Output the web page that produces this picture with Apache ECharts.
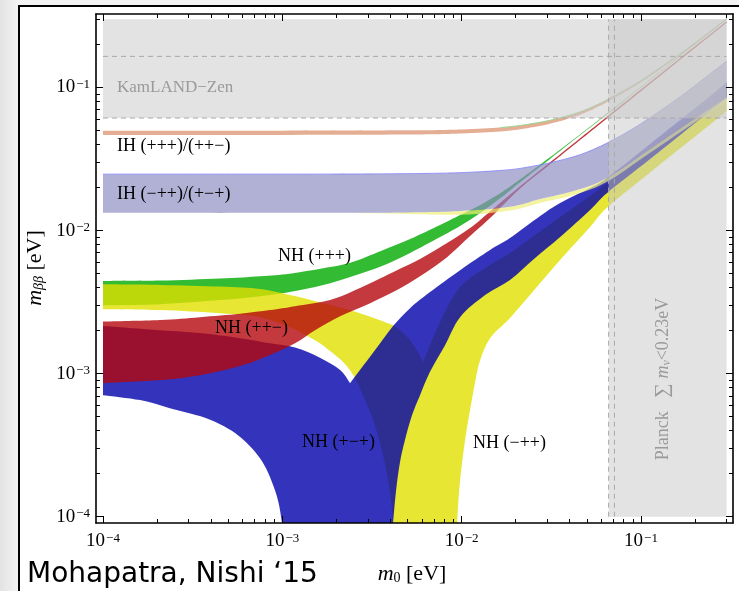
<!DOCTYPE html>
<html><head><meta charset="utf-8">
<script src="https://cdn.jsdelivr.net/npm/echarts@6/dist/echarts.min.js"></script>
<style>
html,body{margin:0;padding:0;width:739px;height:591px;overflow:hidden;background:linear-gradient(to right,#e3e3e3 0px,#f3f3f3 18px);}
#frame{position:absolute;left:18px;top:5px;width:760px;height:640px;border:2px solid #000;background:#fff;box-sizing:border-box;}
#chart{position:absolute;left:0;top:0;width:739px;height:591px;}
</style></head><body>
<div id="frame"></div><div id="chart"></div>
<script>
// ---------- axis ranges (log10 of eV) ----------
const X_MIN = -4.039, X_MAX = -0.487, Y_MIN = -4.044, Y_MAX = -0.4863;
const FLOOR = 9.05e-5;                 // bottom of the plot (m_bb -> 0)
const xTickExp = [-4, -3, -2, -1];     // major tick labels 10^n
const yTickExp = [-4, -3, -2, -1];

// ---------- experimental limits ----------
const kamland = [0.0612, 0.165];       // KamLAND-Zen band (dashed edges)
const planck = [0.066, 0.0711];        // Planck sum m < 0.23 eV  (IH, NH)
const m0Range = [1e-4, 0.3];
const mbbTop = 0.3;

// ---------- NH (+++)  green ----------
const nhPPP_up = [[1e-4,4.44e-3],[2.08e-4,4.47e-3],[4.49e-4,4.62e-3],[7.51e-4,4.80e-3],[1.10e-3,5.0e-3],[1.69e-3,5.45e-3],[2.39e-3,5.95e-3],[3.6e-3,7.25e-3],[5.16e-3,8.72e-3],[7.58e-3,1.093e-2],[9.8e-3,1.284e-2],[1.27e-2,1.51e-2],[1.64e-2,1.82e-2],[2.12e-2,2.28e-2],[3.11e-2,3.25e-2],[4.57e-2,4.7e-2],[5.91e-2,6.03e-2],[9.89e-2,0.1],[0.165,0.167],[0.3,0.303]];
const nhPPP_lo = [[1e-4,3.01e-3],[2.08e-4,3.06e-3],[4.49e-4,3.27e-3],[7.51e-4,3.48e-3],[1.10e-3,3.72e-3],[1.69e-3,4.16e-3],[2.39e-3,4.73e-3],[3.6e-3,5.65e-3],[5.16e-3,6.96e-3],[7.58e-3,9.0e-3],[9.8e-3,1.075e-2],[1.27e-2,1.326e-2],[1.64e-2,1.68e-2],[2.12e-2,2.18e-2],[3.11e-2,3.17e-2],[4.57e-2,4.63e-2],[5.91e-2,5.95e-2],[9.89e-2,9.92e-2],[0.165,0.1655],[0.3,0.3]];

// ---------- NH (-++)  yellow ----------
const nhMPP_up = [[1e-4,4.21e-3],[2.08e-4,4.17e-3],[4.49e-4,4.06e-3],[7.51e-4,3.90e-3],[1.104e-3,3.54e-3],[1.687e-3,3.11e-3],[2.61e-3,2.69e-3],[3.99e-3,2.22e-3],[4.53e-3,2.01e-3],[5.16e-3,1.71e-3],[5.71e-3,1.41e-3],[6.09e-3,1.20e-3],[7.58e-3,2.3e-3],[9.8e-3,4.03e-3],[1.351e-2,5.46e-3],[1.86e-2,6.96e-3],[2.567e-2,9.30e-3],[3.54e-2,1.243e-2],[5.2e-2,1.743e-2],[6.47e-2,2.148e-2],[0.1124,3.72e-2],[0.2136,7.07e-2],[0.3,0.1008]];
const nhMPP_lo = [[1e-4,2.82e-3],[2.08e-4,2.78e-3],[4.49e-4,2.64e-3],[7.51e-4,2.48e-3],[1.104e-3,2.11e-3],[1.522e-3,1.71e-3],[1.845e-3,1.44e-3],[2.237e-3,1.17e-3],[2.543e-3,9.31e-4],[2.782e-3,7.30e-4],[3.09e-3,5.38e-4],[3.374e-3,3.90e-4],[3.644e-3,2.69e-4],[3.887e-3,1.80e-4],[4.04e-3,1.30e-4],[4.145e-3,FLOOR],[9.425e-3,FLOOR],[9.8e-3,1.80e-4],[1.045e-2,3.43e-4],[1.114e-2,5.56e-4],[1.188e-2,8.72e-4],[1.267e-2,1.24e-3],[1.44e-2,1.77e-3],[1.86e-2,2.45e-3],[2.567e-2,3.90e-3],[3.54e-2,6.22e-3],[5.2e-2,1.058e-2],[6.47e-2,1.449e-2],[0.1124,2.55e-2],[0.2136,4.84e-2],[0.3,6.85e-2]];

// ---------- NH (+-+)  blue ----------
const nhPMP_up = [[1e-4,2.15e-3],[2.08e-4,2.01e-3],[3.47e-4,1.92e-3],[5.81e-4,1.77e-3],[8.54e-4,1.63e-3],[1.177e-3,1.52e-3],[1.62e-3,1.29e-3],[2.1e-3,1.06e-3],[2.385e-3,8.58e-4],[2.71e-3,1.06e-3],[3.29e-3,1.46e-3],[4.145e-3,2.15e-3],[5.156e-3,2.87e-3],[6.66e-3,3.72e-3],[9.8e-3,5.29e-3],[1.44e-2,7.31e-3],[1.86e-2,8.86e-3],[2.74e-2,1.263e-2],[3.54e-2,1.557e-2],[5.2e-2,1.98e-2],[6.47e-2,2.33e-2],[0.1124,4.03e-2],[0.2136,7.66e-2],[0.3,0.109]];
const nhPMP_lo = [[1e-4,7.07e-4],[1.61e-4,6.53e-4],[2.36e-4,5.74e-4],[3.47e-4,5.05e-4],[4.49e-4,4.43e-4],[5.45e-4,3.84e-4],[6.6e-4,3.11e-4],[7.51e-4,2.56e-4],[8.32e-4,2.04e-4],[9.1e-4,1.53e-4],[9.58e-4,1.21e-4],[9.96e-4,FLOOR],[4.145e-3,FLOOR],[4.31e-3,1.53e-4],[4.53e-3,2.40e-4],[4.83e-3,3.43e-4],[5.29e-3,5.13e-4],[5.86e-3,7.07e-4],[6.66e-3,1.03e-3],[8.08e-3,1.58e-3],[9.8e-3,2.48e-3],[1.351e-2,3.54e-3],[1.86e-2,4.51e-3],[2.567e-2,6.42e-3],[3.54e-2,9.0e-3],[5.2e-2,1.391e-2],[6.47e-2,1.83e-2],[0.1124,3.16e-2],[0.2136,6.03e-2],[0.3,8.45e-2]];

// ---------- NH (++-)  red ----------
const nhPPM_up = [[1e-4,2.31e-3],[2.08e-4,2.37e-3],[3.47e-4,2.48e-3],[5.81e-4,2.62e-3],[8.54e-4,2.78e-3],[1.177e-3,2.96e-3],[1.845e-3,3.27e-3],[2.712e-3,3.97e-3],[4.36e-3,5.29e-3],[5.86e-3,6.32e-3],[8.29e-3,8.18e-3],[1.114e-2,1.041e-2],[1.44e-2,1.36e-2],[2.117e-2,2.04e-2],[3.112e-2,3.0e-2],[4.573e-2,4.42e-2],[5.913e-2,5.72e-2],[9.89e-2,9.6e-2],[0.165,0.16],[0.3,0.29]];
const nhPPM_lo = [[1e-4,8.58e-4],[2.08e-4,9.01e-4],[3.47e-4,9.76e-4],[5.81e-4,1.13e-3],[8.54e-4,1.35e-3],[1.177e-3,1.63e-3],[1.522e-3,2.01e-3],[2.099e-3,2.52e-3],[3.09e-3,3.11e-3],[4.36e-3,3.84e-3],[5.86e-3,4.80e-3],[8.29e-3,6.52e-3],[1.114e-2,9.15e-3],[1.44e-2,1.223e-2],[2.117e-2,1.97e-2],[3.112e-2,2.91e-2],[4.573e-2,4.29e-2],[5.913e-2,5.56e-2],[9.89e-2,9.3e-2],[0.165,0.156],[0.3,0.284]];

// ---------- IH (+++)/(++-)  salmon ----------
const ihA_up = [[1e-4,0.0499],[1e-3,0.0499],[5e-3,0.0502],[1e-2,0.0509],[1.64e-2,0.0525],[2.12e-2,0.0543],[3.11e-2,0.059],[4.57e-2,0.0675],[5.91e-2,0.0775],[6.47e-2,0.082],[9.89e-2,0.111],[0.165,0.172],[0.2136,0.218],[0.3,0.303]];
const ihA_lo = [[1e-4,0.0466],[1e-3,0.0466],[5e-3,0.0469],[1e-2,0.0477],[1.64e-2,0.0493],[2.12e-2,0.0511],[3.11e-2,0.0558],[4.57e-2,0.0645],[5.91e-2,0.0745],[6.47e-2,0.0792],[9.89e-2,0.108],[0.165,0.169],[0.2136,0.215],[0.3,0.299]];

// ---------- IH (-++)/(+-+)  lavender (+ yellow fringe) ----------
const ihB_up = [[1e-4,2.48e-2],[1e-3,2.48e-2],[5e-3,2.5e-2],[9.8e-3,2.54e-2],[1.637e-2,2.63e-2],[2.117e-2,2.72e-2],[3.112e-2,2.98e-2],[4.573e-2,3.39e-2],[6.47e-2,4.09e-2],[9.89e-2,5.54e-2],[0.165,8.6e-2],[0.2136,0.11],[0.3,0.153]];
const ihB_lo = [[1e-4,1.33e-2],[1e-3,1.33e-2],[5e-3,1.34e-2],[9.8e-3,1.37e-2],[1.86e-2,1.466e-2],[2.74e-2,1.66e-2],[4.4e-2,1.92e-2],[6.47e-2,2.33e-2],[0.1124,3.72e-2],[0.2136,6.42e-2],[0.3,8.5e-2]];
const ihB_fringe = [[1e-4,1.33e-2],[1e-3,1.33e-2],[3e-3,1.32e-2],[9.8e-3,1.29e-2],[1.86e-2,1.38e-2],[2.74e-2,1.56e-2],[4.4e-2,1.8e-2],[6.47e-2,2.19e-2],[0.1124,3.5e-2],[0.2136,6.05e-2],[0.3,8.0e-2]];

// ---------- helpers ----------
const L = v => Math.log10(v);
const lg = arr => arr.map(p => [L(p[0]), L(p[1])]);

// smooth closed outline through the projected points, keeping sharp corners
function outlinePath(px, forced) {
  const n = px.length;
  const corner = new Array(n).fill(false);
  forced.forEach(i => { corner[i] = true; });
  const lim = Math.cos(45 * Math.PI / 180);
  for (let i = 0; i < n; i++) {
    const a = px[(i - 1 + n) % n], b = px[i], c = px[(i + 1) % n];
    const v1x = b[0] - a[0], v1y = b[1] - a[1], v2x = c[0] - b[0], v2y = c[1] - b[1];
    const l1 = Math.hypot(v1x, v1y), l2 = Math.hypot(v2x, v2y);
    if (l1 < 1e-6 || l2 < 1e-6) { corner[i] = true; continue; }
    if ((v1x * v2x + v1y * v2y) / (l1 * l2) < lim) corner[i] = true;
  }
  const P = i => px[((i % n) + n) % n];
  const C = i => corner[((i % n) + n) % n];
  let s = corner.indexOf(true); if (s < 0) s = 0;
  let d = 'M' + P(s)[0].toFixed(2) + ' ' + P(s)[1].toFixed(2);
  for (let k = 0; k < n; k++) {
    const i = s + k, p0 = P(i), p1 = P(i + 1);
    const pm = C(i) ? p0 : P(i - 1);
    const pn = C(i + 1) ? p1 : P(i + 2);
    const c1 = [p0[0] + (p1[0] - pm[0]) / 6, p0[1] + (p1[1] - pm[1]) / 6];
    const c2 = [p1[0] - (pn[0] - p0[0]) / 6, p1[1] - (pn[1] - p0[1]) / 6];
    d += 'C' + c1[0].toFixed(2) + ' ' + c1[1].toFixed(2) + ' ' + c2[0].toFixed(2) + ' ' + c2[1].toFixed(2) + ' ' + p1[0].toFixed(2) + ' ' + p1[1].toFixed(2);
  }
  return d + 'Z';
}
function band(upper, lower, fill, z) {
  const pts = lg(upper).concat(lg(lower).reverse());
  const nu = upper.length;
  return {
    type: 'custom', clip: true, silent: true, z: z || 2,
    data: [pts[0]],
    renderItem: (params, api) => ({
      type: 'path',
      shape: { pathData: outlinePath(pts.map(p => api.coord(p)), [0, nu - 1, nu, pts.length - 1]) },
      style: { fill: fill }
    })
  };
}
function edge(arr, color, width, dash, smooth) {
  return { type: 'line', data: lg(arr), symbol: 'none', silent: true, z: 3, smooth: smooth || false,
    lineStyle: { color: color, width: width || 1, type: dash || 'solid' } };
}
const majorX = xTickExp.slice(), majorY = yTickExp.slice();
const minorX = [], minorY = [];
for (let n = -4; n <= -1; n++) for (let k = 2; k <= 9; k++) {
  const v = Math.log10(k) + n;
  if (v < X_MAX) minorX.push(v);
  if (v < Y_MAX) minorY.push(v);
}
const SERIF = '"Liberation Serif", "DejaVu Serif", serif';
const tickRich = {
  a: { fontFamily: SERIF, fontSize: 19, color: '#000', lineHeight: 19, verticalAlign: 'bottom' },
  b: { fontFamily: SERIF, fontSize: 13, color: '#000', lineHeight: 13, verticalAlign: 'top', padding: [0, 0, 12, 1] }
};
const tickFmt = v => '{a|10}{b|\u2212' + Math.round(-v) + '}';

function xAx(pos, major) {
  return {
    type: 'value', min: X_MIN, max: X_MAX, position: pos, z: 10,
    axisLine: { show: major, onZero: false, lineStyle: { color: '#000', width: 1.6 } },
    axisTick: { show: true, inside: true, length: major ? 7 : 4, customValues: major ? majorX : minorX, lineStyle: { color: '#000', width: 1 } },
    axisLabel: { show: major && pos === 'bottom', customValues: majorX, formatter: tickFmt, rich: tickRich, margin: 9 },
    splitLine: { show: false }
  };
}
function yAx(pos, major) {
  return {
    type: 'value', min: Y_MIN, max: Y_MAX, position: pos, z: 10,
    axisLine: { show: major, onZero: false, lineStyle: { color: '#000', width: 1.6 } },
    axisTick: { show: true, inside: true, length: major ? 7 : 4, customValues: major ? majorY : minorY, lineStyle: { color: '#000', width: 1 } },
    axisLabel: { show: major && pos === 'left', customValues: majorY, formatter: tickFmt, rich: tickRich, margin: 6 },
    splitLine: { show: false }
  };
}

const gray = 'rgba(200,200,200,0.5)';
const dashCol = '#a9a9a9';
const series = [
  band(nhPPP_up, nhPPP_lo, 'rgba(0,170,0,0.8)'),
  band(nhMPP_up, nhMPP_lo, 'rgba(224,224,0,0.8)'),
  band(nhPMP_up, nhPMP_lo, 'rgba(0,0,170,0.8)'),
  band(nhPPM_up, nhPPM_lo, 'rgba(180,8,12,0.8)'),
  band(ihB_lo, ihB_fringe, 'rgba(238,238,120,0.7)'),
  band(ihB_up, ihB_lo, 'rgba(140,140,195,0.68)'),
  edge(ihB_up, 'rgba(120,120,255,0.7)', 1, 'solid', 0.3),
  band(ihA_up, ihA_lo, '#e4ae94'),
  edge(ihA_up.slice(4), 'rgba(140,215,140,0.9)', 1, 'solid', 0.3),
  band([[m0Range[0], mbbTop], [m0Range[1], mbbTop]], [[m0Range[0], kamland[0]], [m0Range[1], kamland[0]]], gray, 4),
  band([[planck[0], mbbTop], [m0Range[1], mbbTop]], [[planck[0], 1e-4], [m0Range[1], 1e-4]], gray, 4),
  Object.assign(edge([[m0Range[0], kamland[0]], [m0Range[1], kamland[0]]], dashCol, 1, [5, 4]), { z: 5 }),
  Object.assign(edge([[m0Range[0], kamland[1]], [m0Range[1], kamland[1]]], dashCol, 1, [5, 4]), { z: 5 }),
  Object.assign(edge([[planck[0], 1e-4], [planck[0], mbbTop]], dashCol, 1, [5, 4]), { z: 5 }),
  Object.assign(edge([[planck[1], 1e-4], [planck[1], mbbTop]], dashCol, 1, [5, 4]), { z: 5 })
];

function txt(x, y, text, opt) {
  return Object.assign({ type: 'text', x: x, y: y, z: 50,
    style: Object.assign({ text: text, fill: '#000', font: '18px ' + SERIF, align: 'left', verticalAlign: 'middle' }, (opt && opt.style) || {}) },
    (opt && opt.el) || {});
}
const G = '#9a9a9a';
const graphics = [
  txt(117, 88, 'KamLAND\u2212Zen', { style: { fill: G, font: '17px ' + SERIF } }),
  txt(117, 146, 'IH (+++)/(++\u2212)'),
  txt(117, 194, 'IH (\u2212++)/(+\u2212+)'),
  txt(278, 256, 'NH (+++)'),
  txt(215, 328, 'NH (++\u2212)'),
  txt(302, 442, 'NH (+\u2212+)'),
  txt(473, 443, 'NH (\u2212++)'),
  txt(663, 379, '{p|Planck}   {s|\u2211 }{m|m}{n|\u03bd}{p|<0.23eV}', { el: { rotation: Math.PI / 2 }, style: { align: 'center', fill: G,
    rich: { p: { fontFamily: SERIF, fontSize: 18, fill: G }, s: { fontFamily: SERIF, fontSize: 20, fill: G },
            m: { fontFamily: SERIF, fontSize: 18, fontStyle: 'italic', fill: G }, n: { fontFamily: SERIF, fontSize: 12, fontStyle: 'italic', fill: G, verticalAlign: 'bottom', padding: [7, 0, 0, 0] } } } }),
  txt(35, 268, '{m|m}{n|\u03b2\u03b2}{p| [eV]}', { el: { rotation: Math.PI / 2 }, style: { align: 'center',
    rich: { p: { fontFamily: SERIF, fontSize: 22 }, m: { fontFamily: SERIF, fontSize: 22, fontStyle: 'italic' }, n: { fontFamily: SERIF, fontSize: 14, fontStyle: 'italic', verticalAlign: 'bottom', padding: [9, 0, 0, 0] } } } }),
  txt(412, 574, '{m|m}{n|0}{p| [eV]}', { style: { align: 'center',
    rich: { p: { fontFamily: SERIF, fontSize: 22 }, m: { fontFamily: SERIF, fontSize: 22, fontStyle: 'italic' }, n: { fontFamily: SERIF, fontSize: 14, verticalAlign: 'bottom', padding: [9, 0, 0, 0] } } } }),
  txt(27, 575, 'Mohapatra, Nishi \u201815', { style: { font: '28px "DejaVu Sans", sans-serif' } })
];

const chart = echarts.init(document.getElementById('chart'), null, { renderer: 'canvas' });
chart.setOption({
  animation: false,
  backgroundColor: 'transparent',
  grid: { left: 96, top: 14, width: 637, height: 509, containLabel: false },
  xAxis: [xAx('bottom', true), xAx('bottom', false), xAx('top', true), xAx('top', false)],
  yAxis: [yAx('left', true), yAx('left', false), yAx('right', true), yAx('right', false)],
  series: series,
  graphic: { elements: graphics }
});
</script></body></html>
